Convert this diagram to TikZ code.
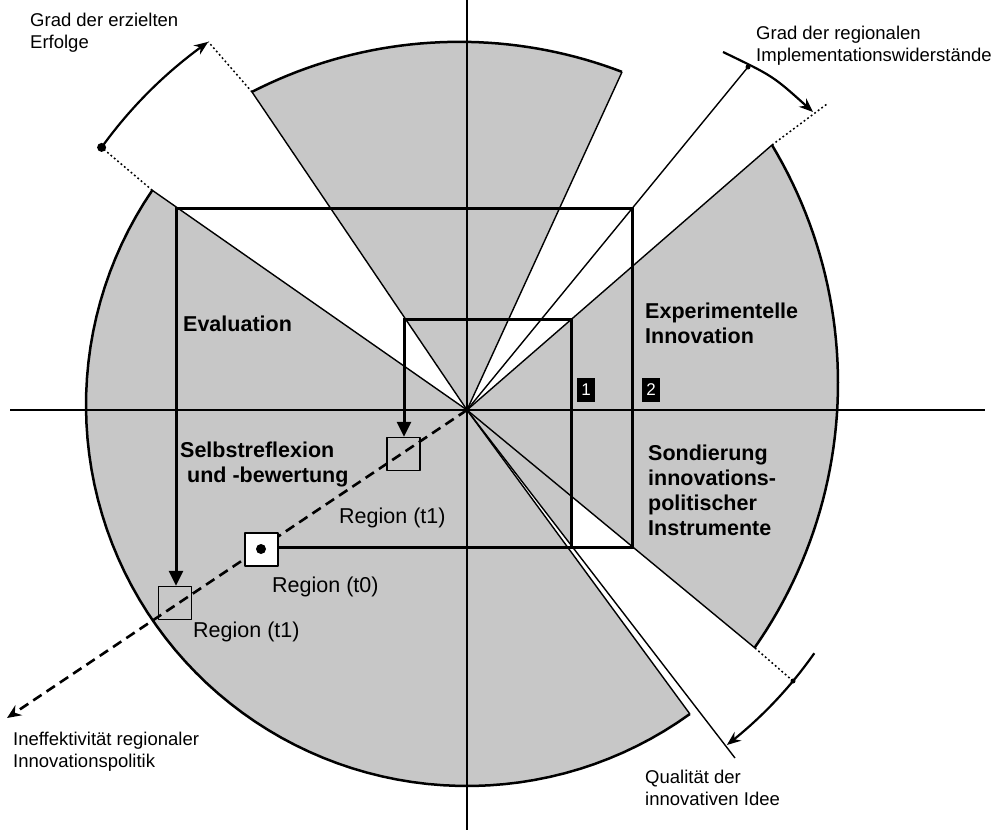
\documentclass[tikz,border=0pt]{standalone}
\usepackage{fontspec}
\setmainfont{Liberation Sans}
\usetikzlibrary{arrows.meta}
\begin{document}
\begin{tikzpicture}[x=1pt,y=-1pt, line join=round,
  shade/.style={fill=black!22},
  rim/.style={line width=2.5pt},
  ray/.style={line width=1.4pt},
  axisline/.style={line width=1.4pt},
  ext/.style={line width=1.5pt, dash pattern=on 1.8pt off 2.6pt},
  track/.style={line width=3pt, line join=miter},
  gauge/.style={line width=2.2pt},
  lab/.style={font=\fontsize{18.5}{22}\selectfont, align=left, anchor=base west, inner sep=0pt},
  phase/.style={font=\fontsize{21.5}{25}\selectfont\bfseries, align=left, anchor=base west, inner sep=0pt},
  reg/.style={font=\fontsize{21.5}{25}\selectfont, anchor=base west, inner sep=0pt},
  regbox/.style={draw, line width=1.4pt, minimum size=33pt, inner sep=0pt},
  numbox/.style={fill=black, text=white, minimum width=18pt, minimum height=24pt, inner sep=0pt, font=\fontsize{17}{17}\selectfont},
  dotmark/.style={circle, fill=black, inner sep=0pt, minimum size=#1},
]
\useasboundingbox (0,0) rectangle (996,830);
\coordinate (O) at (467,410);
\coordinate (L1) at (152.3,190.3);
\coordinate (B1) at (689.9,714);
\coordinate (T1) at (252,92);
\coordinate (T2) at (622,72);
\coordinate (R1) at (772,145);
\coordinate (R2) at (755,648);
\coordinate (A) at (748,67);
\coordinate (Q) at (735,758);
\coordinate (BR) at (632,547);
\coordinate (BT) at (632,208);
\coordinate (BL) at (176,208);
\coordinate (IR) at (571,547);
\coordinate (IT) at (571,319);
\coordinate (IL) at (404,319);
\coordinate (E1) at (101.6,147.4);
\coordinate (E2) at (208.3,41.8);
\coordinate (G2) at (827,104);
\coordinate (G3) at (793,681);
\coordinate (D) at (7,718);
\coordinate (Vt) at (467,0);
\coordinate (Vb) at (467,830);
\coordinate (Hl) at (10,410);
\coordinate (Hr) at (985,410);

% grey sectors
\fill[shade] (O) -- plot[domain=145.7:305.8, samples=70] ({467+381*cos(\x)}, {405-381*sin(\x)}) -- cycle;
\fill[shade] (O) -- plot[domain=117.1:69.06, samples=40] ({459.4+455*cos(\x)}, {496.8-455*sin(\x)}) -- cycle;
\fill[shade] (O) -- plot[domain=31.0:-34.96, samples=50] ({376+462*cos(\x)}, {383-462*sin(\x)}) -- cycle;
\fill[shade] (O) -- (571,496.4) -- (571,545) -- cycle;

% rims
\draw[rim] plot[domain=145.7:305.8, samples=70] ({467+381*cos(\x)}, {405-381*sin(\x)});
\draw[rim] plot[domain=117.1:69.06, samples=40] ({459.4+455*cos(\x)}, {496.8-455*sin(\x)});
\draw[rim] plot[domain=31.0:-34.96, samples=50] ({376+462*cos(\x)}, {383-462*sin(\x)});

% rays
\draw[ray] (O) -- (L1);
\draw[ray] (O) -- (T1);
\draw[ray] (O) -- (T2);
\draw[ray] (O) -- (R1);
\draw[ray] (O) -- (R2);
\draw[ray] (O) -- (B1);
\draw[ray] (O) -- (A);
\draw[ray] (O) -- (Q);

% axes
\draw[axisline] (Vt) -- (Vb);
\draw[axisline] (Hl) -- (Hr);

% dotted extensions
\draw[ext] (L1) -- (E1);
\draw[ext] (T1) -- (E2);
\draw[ext] (R1) -- (G2);
\draw[ext] (R2) -- (G3);

% gauges
\draw[gauge, -{Stealth[length=14pt,width=11pt]}] plot[domain=144.3:125.1, samples=30] ({467+450*cos(\x)}, {410-450*sin(\x)});
\node[dotmark=9pt] (e1dot) at (E1) {};
\draw[gauge, -{Stealth[length=14pt,width=11pt]}] (723,52) .. controls (773,76) .. (813,112);
\node[dotmark=5pt] (adot) at (A) {};
\draw[gauge, -{Stealth[length=14pt,width=11pt]}] plot[domain=-35:-52.2, samples=30] ({467+424*cos(\x)}, {410-424*sin(\x)});
\node[dotmark=5pt] (g3dot) at (G3) {};

% dashed trajectory
\draw[line width=2.6pt, dash pattern=on 10pt off 6pt, -{Stealth[length=14pt,width=12pt]}] (O) -- (D);

% region boxes
\node[regbox] (r1) at (403.5,454) {};
\node[regbox, fill=white, line width=2pt] (r0) at (261,549) {};
\fill (r0.center) circle (5);
\node[regbox] (r2) at (175,603) {};

% tracks
\draw[track, -{Triangle[length=15pt,width=14pt]}] (r0.east |- BR) -- (BR) -- (BT) -- (BL) -- (BL |- r2.north);
\draw[track, -{Triangle[length=15pt,width=14pt]}] (IR) -- (IT) -- (IL) -- (IL |- r1.north);

% number boxes
\node[numbox] (n1) at (586,390) {1};
\node[numbox] (n2) at (651,390) {2};

% labels (anchor = baseline of last line)
\node[lab] (lErf) at (30,48) {Grad der erzielten\\Erfolge};
\node[lab] (lImp) at (756,61.5) {Grad der regionalen\\Implementationswiderstände};
\node[lab] (lIne) at (13,767) {Ineffektivität regionaler\\Innovationspolitik};
\node[lab] (lQual) at (645,805) {Qualität der\\innovativen Idee};
\node[phase] (pEval) at (183,331) {Evaluation};
\node[phase] (pExp) at (645,343) {Experimentelle\\Innovation};
\node[phase] (pSond) at (648,535) {Sondierung\\innovations-\\politischer\\Instrumente};
\node[phase] (pSelb) at (180,482) {Selbstreflexion\\\hspace*{7pt}und -bewertung};
\node[reg] (tR1) at (339,523) {Region (t1)};
\node[reg] (tR0) at (272,592) {Region (t0)};
\node[reg] (tR2) at (193,637) {Region (t1)};
\end{tikzpicture}
\end{document}
